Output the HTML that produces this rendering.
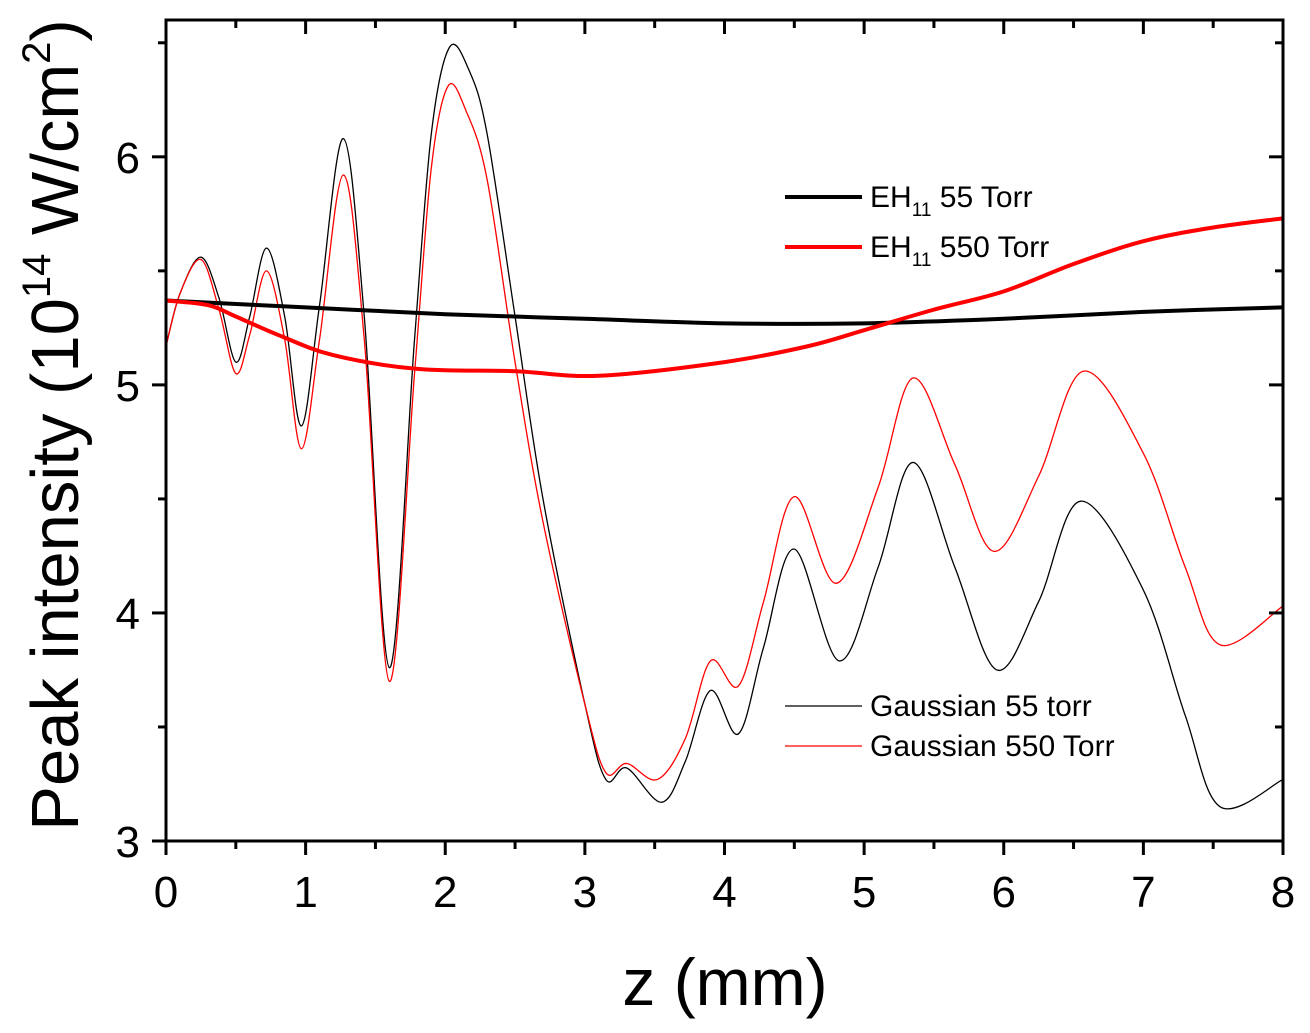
<!DOCTYPE html>
<html><head><meta charset="utf-8"><style>
body{margin:0;background:#fff}
svg text{font-family:"Liberation Sans",sans-serif}
</style></head><body>
<svg id="chart" width="1310" height="1028" xmlns="http://www.w3.org/2000/svg">
<g id="marks"></g>
<g id="axes"></g>
<text x="725" y="1005" font-size="66" text-anchor="middle">z (mm)</text>
<text transform="translate(78,425) rotate(-90)" font-size="67" text-anchor="middle">Peak intensity (10<tspan font-size="40" dy="-28">14</tspan><tspan dy="28"> W/cm</tspan><tspan font-size="40" dy="-28">2</tspan><tspan dy="28">)</tspan></text>
<g font-size="30">
<line x1="785" y1="197" x2="862" y2="197" stroke="#000" stroke-width="4"/>
<text x="870" y="207">EH<tspan font-size="19" dy="9">11</tspan><tspan dy="-9"> 55 Torr</tspan></text>
<line x1="785" y1="247" x2="862" y2="247" stroke="#f00" stroke-width="4"/>
<text x="870" y="257">EH<tspan font-size="19" dy="9">11</tspan><tspan dy="-9"> 550 Torr</tspan></text>
<line x1="785" y1="706" x2="862" y2="706" stroke="#000" stroke-width="1.2"/>
<text x="870" y="716">Gaussian 55 torr</text>
<line x1="785" y1="746" x2="862" y2="746" stroke="#f00" stroke-width="1.2"/>
<text x="870" y="756">Gaussian 550 Torr</text>
</g>
</svg>
<script>
const xTicks=[0,1,2,3,4,5,6,7,8];
const yTicks=[3,4,5,6];
const gauss55X=[0,0.1,0.25,0.38,0.5,0.6,0.72,0.85,0.97,1.1,1.27,1.42,1.6,1.78,1.9,2.03,2.17,2.3,2.5,2.7,3.0,3.15,3.3,3.55,3.72,3.9,4.1,4.28,4.5,4.82,5.1,5.35,5.65,5.95,6.25,6.55,7.0,7.3,7.55,8];
const gauss55Y=[5.17,5.4,5.56,5.38,5.10,5.3,5.60,5.3,4.82,5.35,6.08,5.3,3.76,5.2,6.1,6.48,6.38,6.1,5.3,4.5,3.6,3.27,3.32,3.17,3.35,3.66,3.47,3.85,4.28,3.79,4.2,4.66,4.2,3.75,4.05,4.49,4.1,3.55,3.15,3.27];
const gauss550X=[0,0.1,0.25,0.38,0.5,0.6,0.72,0.85,0.97,1.1,1.27,1.42,1.6,1.78,1.9,2.02,2.15,2.3,2.5,2.7,3.0,3.15,3.3,3.52,3.72,3.9,4.1,4.28,4.5,4.8,5.1,5.35,5.65,5.93,6.25,6.57,7.0,7.3,7.55,8];
const gauss550Y=[5.17,5.4,5.55,5.33,5.05,5.22,5.50,5.2,4.72,5.2,5.92,5.2,3.70,5.05,5.95,6.31,6.2,5.9,5.1,4.4,3.6,3.30,3.34,3.27,3.45,3.79,3.68,4.05,4.51,4.13,4.55,5.03,4.65,4.27,4.6,5.06,4.7,4.2,3.86,4.03];
const eh55X=[0,1,2,3,4,5,6,7,8];
const eh55Y=[5.37,5.34,5.31,5.29,5.27,5.27,5.29,5.32,5.34];
const eh550X=[0,0.3,0.5,0.8,1.2,1.8,2.5,3.1,4,4.6,5,5.5,6,6.5,7,7.5,8];
const eh550Y=[5.37,5.35,5.30,5.22,5.13,5.07,5.06,5.04,5.10,5.17,5.24,5.33,5.41,5.53,5.63,5.69,5.73];
const L=166,R=1283,T=20,B=841,YMIN=3,YMAX=6.6;
const sx=v=>L+(v/8)*(R-L), sy=v=>B-(v-YMIN)/(YMAX-YMIN)*(B-T);
const NS='http://www.w3.org/2000/svg';
function pathD(xs,ys){const p=xs.map((x,i)=>[sx(x),sy(ys[i])]);let d='M'+p[0][0]+','+p[0][1];
for(let i=0;i<p.length-1;i++){const p0=p[Math.max(0,i-1)],p1=p[i],p2=p[i+1],p3=p[Math.min(p.length-1,i+2)];
d+=' C'+(p1[0]+(p2[0]-p0[0])/6)+','+(p1[1]+(p2[1]-p0[1])/6)+' '+(p2[0]-(p3[0]-p1[0])/6)+','+(p2[1]-(p3[1]-p1[1])/6)+' '+p2[0]+','+p2[1];}return d;}
const marks=document.getElementById('marks');
function addLine(xs,ys,color,w,name){const el=document.createElementNS(NS,'path');el.setAttribute('d',pathD(xs,ys));el.setAttribute('fill','none');el.setAttribute('stroke',color);el.setAttribute('stroke-width',w);


marks.appendChild(el);}
addLine(gauss55X,gauss55Y,'#000',1.3,'line-gaussian-55');
addLine(gauss550X,gauss550Y,'#f00',1.3,'line-gaussian-550');
addLine(eh55X,eh55Y,'#000',4,'line-eh11-55');
addLine(eh550X,eh550Y,'#f00',4,'line-eh11-550');
const ax=document.getElementById('axes');let h='<rect x="'+L+'" y="'+T+'" width="'+(R-L)+'" height="'+(B-T)+'" fill="none" stroke="#000" stroke-width="3"/>';
for(let v=0;v<=8;v+=0.5){const x=sx(v),len=(v%1===0)?14:8;h+='<line x1="'+x+'" y1="'+B+'" x2="'+x+'" y2="'+(B+len)+'" stroke="#000" stroke-width="3"/><line x1="'+x+'" y1="'+T+'" x2="'+x+'" y2="'+(T+len)+'" stroke="#000" stroke-width="3"/>';}
for(let v=3;v<=6.5;v+=0.5){const y=sy(v),len=(v%1===0)?14:8;h+='<line x1="'+(L-len)+'" y1="'+y+'" x2="'+L+'" y2="'+y+'" stroke="#000" stroke-width="3"/><line x1="'+(R-len)+'" y1="'+y+'" x2="'+R+'" y2="'+y+'" stroke="#000" stroke-width="3"/>';}
xTicks.forEach(v=>{h+='<text x="'+sx(v)+'" y="907" font-size="44" text-anchor="middle">'+v+'</text>';});
yTicks.forEach(v=>{h+='<text x="140" y="'+(sy(v)+16)+'" font-size="44" text-anchor="end">'+v+'</text>';});
ax.innerHTML=h;
</script>
</body></html>
